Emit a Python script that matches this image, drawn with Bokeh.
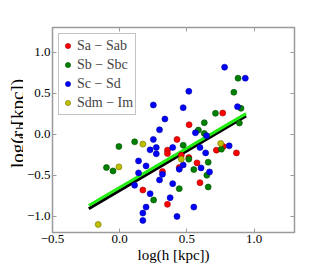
import math
from bokeh.plotting import figure
from bokeh.layouts import row
from bokeh.models import LinearAxis, FixedTicker, Range1d
from bokeh.core.properties import value
from bokeh.embed import file_html
from bokeh.resources import INLINE

# ---------------- data ----------------
sa_x = [0.516, 0.766, 0.426, 0.355, 0.355, 0.458, 0.514, 0.575, 0.770, 0.719,
        0.868, 0.597, 0.318, 0.443, 0.172, 0.355]
sa_y = [0.114, 0.257, -0.065, -0.196, -0.237, -0.257, -0.286, -0.351, -0.151, -0.196,
        -0.229, -0.592, -0.457, -0.408, -0.682, -0.857]

sb_x = [-0.099, -0.050, -0.006, 0.111, 0.252, 0.443, 0.472, 0.514, 0.551, 0.585,
        0.629, 0.629, 0.658, 0.648, 0.658, 0.712, 0.756, 0.849, 0.880, 0.902, 0.890]
sb_y = [-0.408, -0.449, -0.151, -0.094, -0.804, -0.665, -0.135, -0.306, -0.433, 0.049,
        0.139, 0.008, -0.343, -0.502, -0.645, 0.253, -0.184, 0.510, 0.682, 0.314, 0.135]

sc_x = [0.780, 0.934, 0.876, 0.514, 0.472, 0.250, 0.336, 0.296, 0.250, 0.226,
        0.272, 0.272, 0.394, 0.563, 0.646, 0.597, 0.639, 0.814, 0.472, 0.443,
        0.318, 0.140, 0.140, 0.111, 0.196, 0.296, 0.394, 0.375, 0.226, 0.196,
        0.172, 0.172, 0.426, 0.551, 0.605, 0.668]
sc_y = [0.816, 0.682, 0.335, 0.522, 0.322, 0.355, 0.184, 0.053, -0.065, -0.192,
        -0.163, -0.241, -0.163, 0.016, -0.020, -0.163, -0.229, -0.143, -0.376, -0.429,
        -0.490, -0.327, -0.473, -0.624, -0.388, -0.559, -0.604, -0.776, -0.727, -0.890,
        -0.963, -1.053, -1.004, -0.890, -0.412, -0.461]

sd_x = [-0.160, -0.006, 0.172, 0.458, 0.751]
sd_y = [-1.102, -0.400, -0.122, -0.306, -0.114]

fit_x = [-0.23, 0.94]
fit_black_y = [-0.91, 0.22]
fit_green_y = [-0.87, 0.25]

x_ticks = [-0.5, 0.0, 0.5, 1.0]
x_tick_labels = ["\u22120.5", "0.0", "0.5", "1.0"]
y_ticks = [-1.0, -0.5, 0.0, 0.5, 1.0]
y_tick_labels = ["\u22121.0", "\u22120.5", "0.0", "0.5", "1.0"]

series_names = ["Sa \u2212 Sab", "Sb \u2212 Sbc", "Sc \u2212 Sd", "Sdm \u2212 Im"]
x_label = "log(h [kpc])"
y_label_parts = ["log(r", "e,b", " [kpc])"]

# ---------------- main figure ----------------
FONT = "Liberation Serif"
FRAME = "#9a9a9a"
H = 270
W2 = 23

p = figure(width=300, height=H, output_backend="svg", toolbar_location=None,
           x_range=Range1d(-0.5, 1.3), y_range=Range1d(-1.2, 1.3),
           min_border_left=26, min_border_right=29, min_border_top=27,
           min_border_bottom=38, background_fill_color="white",
           border_fill_color="white")
p.grid.visible = False
p.outline_line_color = FRAME
p.outline_line_width = 1.5

for ax, ticks, labels in ((p.xaxis[0], x_ticks, x_tick_labels), (p.yaxis[0], y_ticks, y_tick_labels)):
    ax.ticker = FixedTicker(ticks=ticks)
    ax.major_label_overrides = {t: l for t, l in zip(ticks, labels)}
    ax.axis_line_color = None
    ax.major_tick_in = 4
    ax.major_tick_out = 0
    ax.major_tick_line_color = FRAME
    ax.minor_tick_line_color = None
    ax.major_label_text_font = FONT
    ax.major_label_text_font_size = "13px"
    ax.major_label_text_color = "black"
    ax.major_label_standoff = 2

p.xaxis[0].axis_label = x_label
p.xaxis[0].axis_label_text_font = FONT
p.xaxis[0].axis_label_text_font_size = "15px"
p.xaxis[0].axis_label_text_font_style = "normal"
p.xaxis[0].axis_label_text_color = "black"
p.xaxis[0].axis_label_standoff = 1

for loc, ticks in (("above", x_ticks), ("right", y_ticks)):
    extra = LinearAxis(ticker=FixedTicker(ticks=ticks), major_label_text_color=None,
                       major_label_text_font_size="1px", axis_line_color=None,
                       major_tick_in=4, major_tick_out=0, major_tick_line_color=FRAME,
                       minor_tick_line_color=None, major_label_standoff=0)
    p.add_layout(extra, loc)

# fit lines
p.line(fit_x, fit_black_y, line_color="black", line_width=3)
p.line(fit_x, fit_green_y, line_color="#22ee11", line_width=3)

# points
specs = [(sa_x, sa_y, "#ff0000", "#990000"),
         (sb_x, sb_y, "#008000", "#004d00"),
         (sc_x, sc_y, "#0000ff", "#000099"),
         (sd_x, sd_y, "#bfbf00", "#707000")]
for (xs, ys, fc, lc), name in zip(specs, series_names):
    p.scatter(xs, ys, size=6, fill_color=fc, line_color=lc, line_width=0.6,
              legend_label=name)

lg = p.legend[0]
lg.location = "top_left"
lg.margin = 6
lg.padding = 2
lg.spacing = 0
lg.label_height = 19
lg.glyph_height = 19
lg.glyph_width = 13
lg.label_standoff = 3
lg.label_text_font = FONT
lg.label_text_font_size = "14px"
lg.border_line_color = "#888888"
lg.border_line_width = 1
lg.background_fill_color = "white"
lg.background_fill_alpha = 1.0

# ---------------- y label strip ----------------
side = figure(width=W2, height=H, output_backend="svg", toolbar_location=None,
              x_range=Range1d(0, W2), y_range=Range1d(H, 0),
              x_axis_type=None, y_axis_type=None, min_border=0,
              outline_line_color=None, background_fill_color="white",
              border_fill_color="white")
side.grid.visible = False
FS, FSS = 19, 13.5
y0 = 185          # bottom start of the rotated label (pixels from top)
w1, w2 = 38.0, 18.0
bx = 17.0
side.text(x=[bx], y=[y0], text=[y_label_parts[0]], angle=math.pi / 2,
          text_font=value(FONT), text_font_size=f"{FS}px", text_align="left",
          text_baseline="alphabetic", text_color="black")
side.text(x=[bx + 3], y=[y0 - w1], text=[y_label_parts[1]], angle=math.pi / 2,
          text_font=value(FONT), text_font_size=f"{FSS}px", text_align="left",
          text_baseline="alphabetic", text_color="black")
side.text(x=[bx], y=[y0 - w1 - w2], text=[y_label_parts[2]], angle=math.pi / 2,
          text_font=value(FONT), text_font_size=f"{FS}px", text_align="left",
          text_baseline="alphabetic", text_color="black")

layout = row(side, p, spacing=0)
open("out.html", "w").write(file_html(layout, INLINE))
